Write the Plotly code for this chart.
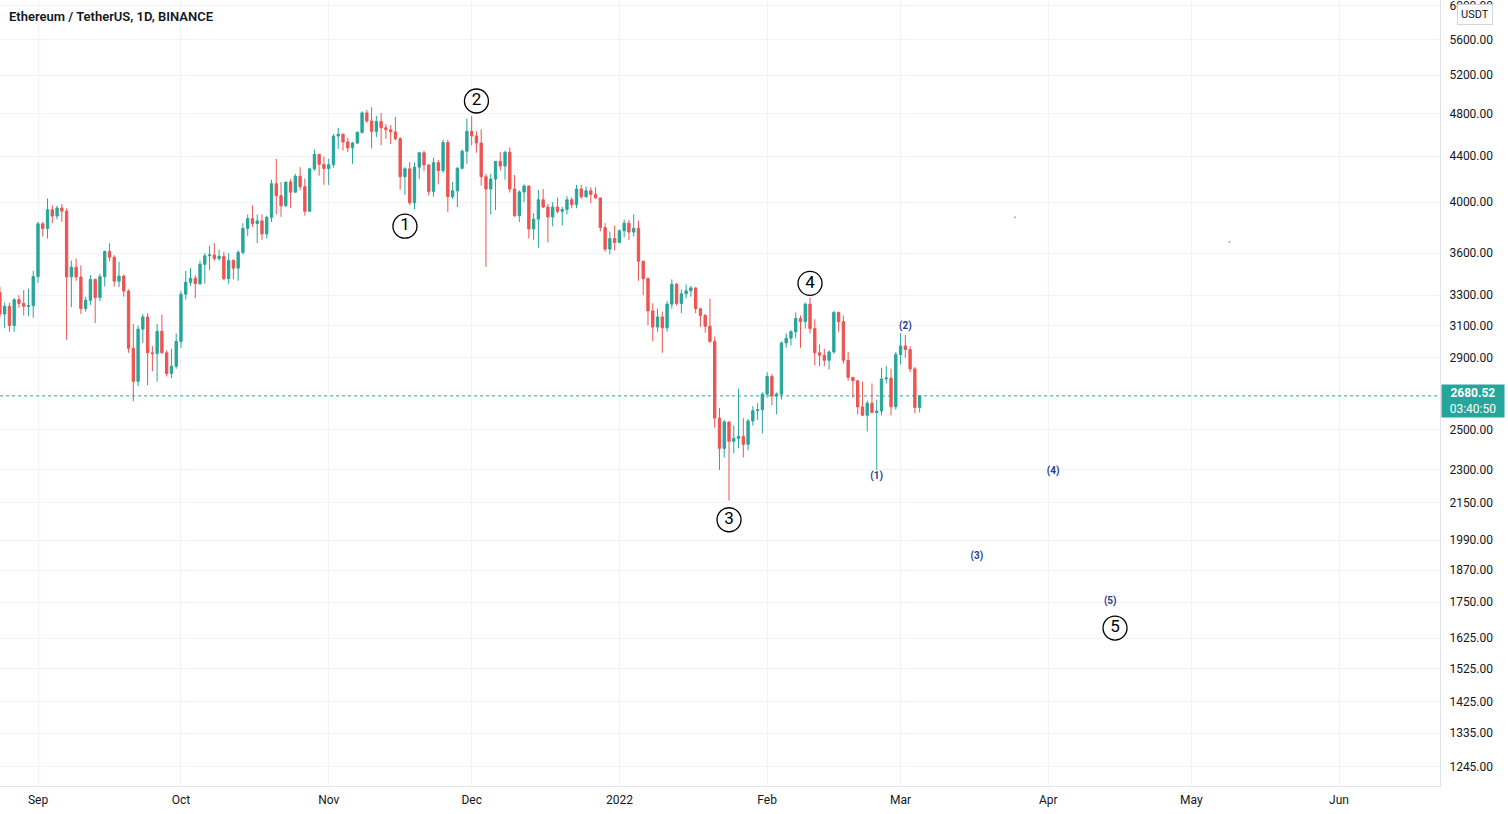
import math
import pandas as pd
import plotly.graph_objects as go

# ---------------- data (ETH/USDT daily) ----------------
start_date = "2021-08-24"

opens = [3320, 3174, 3225, 3100, 3270, 3245, 3225, 3230,
         3430, 3825, 3788, 3938, 3887, 3952, 3927, 3428, 3497, 3427, 3211, 3266, 3410, 3285, 3429,
         3612, 3570, 3397, 3433, 3329, 2958, 2762, 3077, 3155, 2930, 2925, 3063, 2930, 2807, 2850,
         3000, 3307, 3390, 3418, 3380, 3518, 3580, 3587, 3560, 3576, 3415, 3545, 3490, 3605, 3789,
         3866, 3828, 3848, 3746, 3876, 4155, 4054, 3970, 4170, 4083, 4220, 4130, 3925, 4285, 4415, 4325,
         4288, 4322, 4585, 4603, 4530, 4475, 4520, 4620, 4810, 4730, 4630, 4725, 4665, 4645, 4625,
         4560, 4216, 4285, 3995, 4300, 4430, 4320, 4090, 4340, 4270, 4525, 4045, 4095, 4290, 4444,
         4630, 4587, 4520, 4216, 4110, 4195, 4350, 4310, 4435, 4110, 3890, 4085, 4135, 3785, 3862,
         4020, 3960, 3880, 3960, 3925, 3940, 4020, 3980, 4110, 4045, 4095, 4065, 4035, 3795, 3630, 3710,
         3680, 3770, 3830, 3760, 3790, 3540, 3415, 3195, 3090, 3155, 3085, 3240, 3375, 3245, 3310,
         3330, 3350, 3210, 3165, 3095, 3000, 2560, 2405, 2540, 2440, 2455, 2465, 2425, 2545, 2600, 2605,
         2690, 2790, 2680, 2690, 2990, 3020, 3060, 3145, 3125, 3240, 3080, 2930, 2915, 2885, 2935,
         3185, 3125, 2885, 2785, 2765, 2620, 2575, 2640, 2590, 2598, 2776, 2781, 2621,
         2920, 2972, 2950, 2834, 2617]

highs = [3360, 3250, 3250, 3280, 3300, 3335, 3345, 3470,
         3840, 3840, 4030, 3975, 3970, 3985, 3950, 3545, 3560, 3510, 3290, 3440, 3415, 3450, 3620,
         3675, 3585, 3535, 3445, 3340, 3110, 3100, 3175, 3180, 2970, 3110, 3170, 2945, 2955, 3050,
         3330, 3470, 3490, 3440, 3545, 3600, 3655, 3675, 3625, 3610, 3600, 3555, 3620, 3830, 3900,
         3975, 3900, 3900, 3890, 4190, 4375, 4170, 4170, 4195, 4240, 4300, 4200, 4295, 4460, 4415, 4395,
         4375, 4605, 4665, 4610, 4570, 4530, 4630, 4825, 4840, 4868, 4780, 4810, 4700, 4690, 4770,
         4575, 4300, 4345, 4340, 4435, 4450, 4325, 4385, 4365, 4550, 4550, 4170, 4300, 4460, 4755,
         4778, 4630, 4650, 4240, 4240, 4355, 4435, 4445, 4480, 4230, 4100, 4150, 4140, 3910, 4100,
         4110, 3985, 4000, 4040, 3960, 4050, 4040, 4145, 4145, 4130, 4125, 4125, 4040, 3830, 3765, 3810,
         3780, 3860, 3855, 3900, 3850, 3545, 3425, 3245, 3210, 3190, 3260, 3410, 3385, 3340, 3375,
         3365, 3355, 3215, 3175, 3275, 3030, 2615, 2550, 2540, 2520, 2720, 2560, 2555, 2625, 2640, 2700,
         2815, 2805, 2700, 3000, 3050, 3070, 3185, 3165, 3250, 3285, 3140, 2980, 2955, 2945, 3195,
         3190, 3165, 2935, 2785, 2770, 2760, 2655, 2750, 2660, 2840, 2850, 2835, 2935,
         3050, 3040, 2970, 2845, 2685]

lows = [3150, 3085, 3060, 3060, 3215, 3165, 3160, 3150,
        3385, 3725, 3710, 3830, 3860, 3840, 3010, 3220, 3400, 3175, 3190, 3235, 3115, 3260, 3360,
        3540, 3360, 3355, 3290, 2930, 2650, 2735, 2990, 2740, 2820, 2760, 2925, 2790, 2780, 2835,
        2960, 3270, 3365, 3280, 3370, 3380, 3475, 3545, 3545, 3405, 3380, 3410, 3400, 3590, 3730,
        3800, 3675, 3700, 3710, 3840, 3900, 3880, 3960, 3950, 4080, 4100, 3890, 3920, 4265, 4225, 4145,
        4145, 4295, 4465, 4450, 4435, 4330, 4510, 4610, 4710, 4470, 4575, 4500, 4560, 4510, 4545,
        4105, 4060, 3975, 3940, 4195, 4265, 4055, 4045, 4150, 4250, 3920, 4025, 3960, 4280, 4330,
        4500, 4430, 4140, 3500, 3900, 3935, 4270, 4190, 4080, 3880, 3840, 4000, 3710, 3700, 3640,
        3950, 3680, 3805, 3910, 3810, 3900, 3950, 3950, 4030, 4035, 3990, 4030, 3765, 3610, 3590, 3620,
        3675, 3720, 3700, 3725, 3400, 3300, 3100, 3000, 3060, 2930, 3060, 3210, 3230, 3180, 3280,
        3290, 3180, 3090, 3055, 2990, 2510, 2300, 2360, 2159, 2380, 2405, 2360, 2395, 2520, 2550, 2480,
        2670, 2630, 2580, 2660, 2960, 2975, 3020, 2960, 3080, 3050, 2855, 2850, 2850, 2830, 2925,
        3060, 2865, 2765, 2670, 2580, 2570, 2490, 2585, 2300, 2575, 2750, 2575, 2605,
        2860, 2900, 2815, 2585, 2590]

closes = [3174, 3225, 3100, 3270, 3245, 3225, 3230, 3430,
          3825, 3788, 3938, 3887, 3952, 3927, 3428, 3497, 3427, 3211, 3266, 3410, 3285, 3429, 3612,
          3570, 3397, 3433, 3329, 2958, 2762, 3077, 3155, 2930, 2925, 3063, 2930, 2807, 2850, 3000,
          3307, 3390, 3418, 3380, 3518, 3580, 3587, 3560, 3576, 3415, 3545, 3490, 3605, 3789, 3866,
          3828, 3848, 3746, 3876, 4155, 4054, 3970, 4170, 4083, 4220, 4130, 3925, 4285, 4415, 4325, 4288,
          4322, 4585, 4603, 4530, 4475, 4520, 4620, 4810, 4730, 4630, 4725, 4665, 4645, 4625, 4560,
          4216, 4285, 3995, 4300, 4430, 4320, 4090, 4340, 4270, 4525, 4045, 4095, 4290, 4444, 4630,
          4587, 4520, 4216, 4110, 4195, 4350, 4310, 4435, 4110, 3890, 4085, 4135, 3785, 3862, 4020,
          3960, 3880, 3960, 3925, 3940, 4020, 3980, 4110, 4045, 4095, 4065, 4035, 3795, 3630, 3710, 3680,
          3770, 3830, 3760, 3790, 3540, 3415, 3195, 3090, 3155, 3085, 3240, 3375, 3245, 3310, 3330,
          3350, 3210, 3165, 3095, 3000, 2560, 2405, 2540, 2440, 2455, 2465, 2425, 2545, 2600, 2605, 2690,
          2790, 2680, 2690, 2990, 3020, 3060, 3145, 3125, 3240, 3080, 2930, 2915, 2885, 2935, 3185,
          3125, 2885, 2785, 2765, 2620, 2575, 2640, 2590, 2598, 2776, 2781, 2621, 2920,
          2972, 2950, 2834, 2617, 2680.52]

last_price = 2680.52
countdown = "03:40:50"
title_text = "Ethereum / TetherUS, 1D, BINANCE"

# Elliott wave labels (primary, circled)
wave_labels = ["1", "2", "3", "4", "5"]
wave_dates = ["2021-11-17", "2021-12-02", "2022-01-24", "2022-02-10", "2022-04-15"]
wave_prices = [3806, 4930, 2075, 3382, 1659]

# sub-wave labels
sub_labels = ["(1)", "(2)", "(3)", "(4)", "(5)"]
sub_dates = ["2022-02-24", "2022-03-02", "2022-03-17", "2022-04-02", "2022-04-14"]
sub_prices = [2269, 3094, 1922, 2292, 1751]

# two stray marks in the empty area
dot_dates = ["2022-03-25", "2022-05-09"]
dot_prices = [3878, 3683]

y_ticks = [1245, 1335, 1425, 1525, 1625, 1750, 1870, 1990, 2150, 2300, 2500,
           2900, 3100, 3300, 3600, 4000, 4400, 4800, 5200, 5600, 6000]
x_tick_dates = ["2021-09-01", "2021-10-01", "2021-11-01", "2021-12-01", "2022-01-01",
                "2022-02-01", "2022-03-01", "2022-04-01", "2022-05-01", "2022-06-01"]
x_tick_text = ["Sep", "Oct", "Nov", "Dec", "2022", "Feb", "Mar", "Apr", "May", "Jun"]

# ---------------- figure ----------------
dates = pd.date_range(start_date, periods=len(opens), freq="D")
x_range = ["2021-08-24 00:37", "2022-06-22 04:40"]
y_range = [math.log10(1197), math.log10(6074)]

UP = "#26a69a"
DOWN = "#ef5350"
TXT = "#131722"
GRID = "#f0f3fa"
FONT = "Roboto"

fig = go.Figure()

fig.add_trace(go.Candlestick(
    x=dates, open=opens, high=highs, low=lows, close=closes,
    increasing=dict(line=dict(color=UP, width=1), fillcolor=UP),
    decreasing=dict(line=dict(color=DOWN, width=1), fillcolor=DOWN),
    whiskerwidth=0, showlegend=False, hoverinfo="skip",
))

# current price dotted line
fig.add_trace(go.Scatter(
    x=x_range, y=[last_price, last_price], mode="lines",
    line=dict(color=UP, width=1, dash="dot"), showlegend=False, hoverinfo="skip",
))

# circled wave labels
fig.add_trace(go.Scatter(
    x=wave_dates, y=wave_prices, mode="markers+text", text=wave_labels,
    textposition="middle center",
    textfont=dict(family=FONT, size=17, color="#000000"),
    marker=dict(symbol="circle", size=24, color="rgba(255,255,255,0)",
                line=dict(color="#000000", width=1.3)),
    showlegend=False, hoverinfo="skip",
))

# sub-wave labels
fig.add_trace(go.Scatter(
    x=sub_dates, y=sub_prices, mode="text", text=sub_labels,
    textposition="middle center",
    textfont=dict(family=FONT, size=10, color="#2b3d8b", weight="bold"),
    showlegend=False, hoverinfo="skip",
))

fig.add_trace(go.Scatter(
    x=dot_dates, y=dot_prices, mode="markers",
    marker=dict(size=2, color="#b0a8a0"), showlegend=False, hoverinfo="skip",
))

fig.update_layout(
    width=1508, height=814,
    margin=dict(l=0, r=68, t=0, b=28),
    paper_bgcolor="white", plot_bgcolor="white",
    font=dict(family=FONT, size=12, color=TXT),
    xaxis=dict(
        type="date", range=x_range, rangeslider=dict(visible=False),
        tickvals=x_tick_dates, ticktext=x_tick_text,
        showgrid=True, gridcolor=GRID, gridwidth=1,
        showline=True, linecolor="#e0e3eb", linewidth=1, mirror=False,
        ticks="", ticklabelstandoff=3, zeroline=False,
        tickfont=dict(family=FONT, size=12, color=TXT),
    ),
    yaxis=dict(
        type="log", range=y_range, side="right",
        tickvals=y_ticks, ticktext=[f"{v:.2f}" for v in y_ticks],
        showgrid=True, gridcolor=GRID, gridwidth=1,
        showline=True, linecolor="#e0e3eb", linewidth=1,
        ticks="", ticklabelstandoff=6, zeroline=False, ticklabeloverflow="allow",
        tickfont=dict(family=FONT, size=12, color=TXT),
    ),
    annotations=[
        dict(xref="paper", yref="paper", x=0, y=1, xanchor="left", yanchor="top",
             xshift=7, yshift=-7, showarrow=False, text=title_text,
             font=dict(family=FONT, size=13, color=TXT, weight=600)),
        dict(xref="paper", yref="y", x=1, y=math.log10(last_price),
             xanchor="left", yanchor="middle", xshift=1, yshift=-5, showarrow=False,
             text=f"<b>{last_price:.2f}</b><br>{countdown}", bgcolor=UP, borderpad=1,
             font=dict(family=FONT, size=12, color="white"), align="center",
             width=60),
        dict(xref="paper", yref="paper", x=1, y=1, xanchor="center", yanchor="top",
             xshift=35, yshift=-4, showarrow=False, text="USDT",
             bgcolor="white", bordercolor="#d1d4dc", borderwidth=1, borderpad=3,
             font=dict(family=FONT, size=11, color=TXT)),
    ],
)

fig.write_html("out.html")
